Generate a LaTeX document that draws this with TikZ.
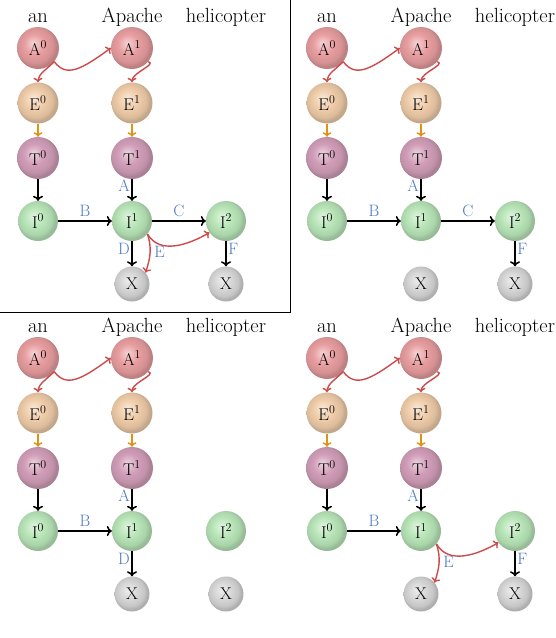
\documentclass[tikz,border=0pt]{standalone}
\usetikzlibrary{arrows.meta}
\definecolor{lblue}{RGB}{75,120,195}
\definecolor{rarrowc}{RGB}{205,75,75}
\definecolor{oarrowc}{RGB}{225,145,20}
\definecolor{acol}{RGB}{232,158,160}
\definecolor{ecol}{RGB}{240,205,170}
\definecolor{tcol}{RGB}{210,158,185}
\definecolor{icol}{RGB}{185,230,185}
\definecolor{xcol}{RGB}{215,215,215}
\newcommand\mkshade[2]{\pgfdeclareradialshading{#1}{\pgfpoint{-6bp}{6bp}}{%
 color(0bp)=(#2!45!white); color(12bp)=(#2); color(21bp)=(#2!92!black);
 color(25bp)=(#2!82!black); color(50bp)=(#2!70!black)}}
\mkshade{ashade}{acol}
\mkshade{eshade}{ecol}
\mkshade{tshade}{tcol}
\mkshade{ishade}{icol}
\mkshade{xshade}{xcol}
\newcommand\basepanel[3]{%
 \begin{scope}[shift={(#2,#3)}]
  \node[hdr] (#1h0) at (38,22) {an};
  \node[hdr] (#1h1) at (132,22) {Apache};
  \node[hdr] (#1h2) at (226,22) {helicopter};
  \node[aball] (#1A0) at (38,48) {A$^0$};
  \node[aball] (#1A1) at (132,48) {A$^1$};
  \node[eball] (#1E0) at (38,103) {E$^0$};
  \node[eball] (#1E1) at (132,103) {E$^1$};
  \node[tball] (#1T0) at (38,158) {T$^0$};
  \node[tball] (#1T1) at (132,158) {T$^1$};
  \node[iball] (#1I0) at (38,221) {I$^0$};
  \node[iball] (#1I1) at (132,221) {I$^1$};
  \node[iball] (#1I2) at (226,221) {I$^2$};
  \node[xball] (#1X1) at (132,284) {X};
  \node[xball] (#1X2) at (226,284) {X};
 \end{scope}
 \draw[rarr] (#1A0.-40) .. controls +(12,16) and +(-30,22) .. (#1A1.180);
 \draw[rarr] (#1A0.-40) .. controls +(-8,8) and +(0,-8) .. (#1E0.90);
 \draw[rarr] (#1A1.-40) .. controls +(9,3) and +(0,-10) .. (#1E1.90);
 \draw[oarr] (#1E0) -- (#1T0);
 \draw[oarr] (#1E1) -- (#1T1);
 \draw[blk] (#1T0) -- (#1I0);
 \draw[blk] (#1T1) -- node[lbl,pos=0.3,left] (#1lA) {A} (#1I1);
 \draw[blk] (#1I0) -- node[lbl,midway,above=2pt] (#1lB) {B} (#1I1);
}
\begin{document}
\begin{tikzpicture}[x=1pt,y=-1pt,
  ball/.style={circle,inner sep=0pt,font=\fontsize{17}{17}\selectfont},
  aball/.style={ball,shading=ashade,minimum size=42pt},
  eball/.style={ball,shading=eshade,minimum size=41pt},
  tball/.style={ball,shading=tshade,minimum size=42pt},
  iball/.style={ball,shading=ishade,minimum size=40pt},
  xball/.style={ball,shading=xshade,minimum size=35pt},
  hdr/.style={anchor=base,inner sep=0pt,font=\fontsize{20.5}{22}\selectfont},
  blk/.style={-{To[length=5pt,width=10pt]},line width=1.5pt,black},
  oarr/.style={-{To[length=4.5pt,width=9pt]},line width=1.4pt,oarrowc},
  rarr/.style={-{To[length=4.5pt,width=9pt]},line width=1.4pt,rarrowc},
  lbl/.style={text=lblue,inner sep=1.5pt,font=\fontsize{16.5}{17}\selectfont}
]
\useasboundingbox (0,0) rectangle (556,638);
% panel 1 (top left)
\basepanel{p}{0}{0}
\draw[blk] (pI1) -- node[lbl,midway,above=2pt] (plC) {C} (pI2);
\draw[blk] (pI1) -- node[lbl,pos=0.3,left] (plD) {D} (pX1);
\draw[blk] (pI2) -- node[lbl,pos=0.3,right] (plF) {F} (pX2);
\draw[rarr] (pI1.-40) to[out=-60,in=-150] (pI2.-145);
\draw[rarr] (pI1.-40) to[out=-72,in=72] node[lbl,pos=0.45,right=2pt] (plE) {E} (pX1.40);
% panel 2 (top right)
\basepanel{q}{289}{0}
\draw[blk] (qI1) -- node[lbl,midway,above=2pt] (qlC) {C} (qI2);
\draw[blk] (qI2) -- node[lbl,pos=0.3,right] (qlF) {F} (qX2);
% panel 3 (bottom left)
\basepanel{r}{0}{310}
\draw[blk] (rI1) -- node[lbl,pos=0.3,left] (rlD) {D} (rX1);
% panel 4 (bottom right)
\basepanel{s}{289}{310}
\draw[blk] (sI2) -- node[lbl,pos=0.3,right] (slF) {F} (sX2);
\draw[rarr] (sI1.-40) to[out=-60,in=-150] (sI2.-145);
\draw[rarr] (sI1.-40) to[out=-72,in=72] node[lbl,pos=0.45,right=2pt] (slE) {E} (sX1.40);
% frame of panel 1
\coordinate (fTop) at (290,0);
\coordinate (fCorner) at (290,312);
\coordinate (fLeft) at (0,312);
\draw[line width=1pt] (fTop) -- (fCorner) -- (fLeft);
\end{tikzpicture}
\end{document}
